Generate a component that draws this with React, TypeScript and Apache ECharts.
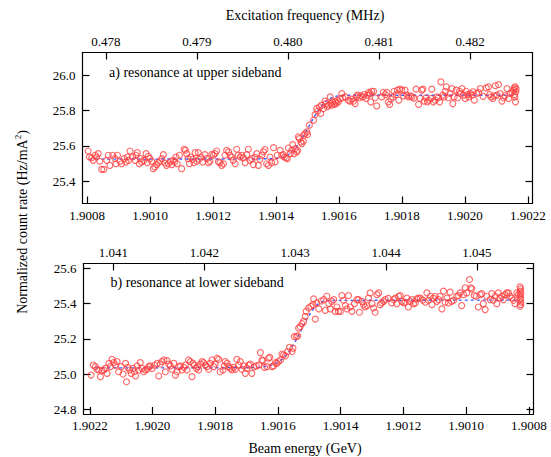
import React, { useEffect, useRef } from "react";
import * as echarts from "echarts";

// Panel a) resonance at upper sideband: [beam energy (GeV), normalized count rate]
const scanA: [number, number][] = [
  [1.900803,25.571],[1.900807,25.537],[1.900814,25.532],[1.900819,25.518],[1.900825,25.547],[1.900830,25.537],
  [1.900835,25.556],[1.900840,25.513],[1.900846,25.467],[1.900853,25.467],[1.900862,25.518],[1.900867,25.547],
  [1.900872,25.490],[1.900881,25.547],[1.900888,25.528],[1.900891,25.499],[1.900896,25.547],[1.900904,25.513],
  [1.900909,25.499],[1.900917,25.528],[1.900923,25.509],[1.900927,25.537],[1.900931,25.518],[1.900936,25.571],
  [1.900944,25.537],[1.900952,25.518],[1.900955,25.547],[1.900959,25.562],[1.900966,25.499],[1.900970,25.528],
  [1.900973,25.509],[1.900980,25.518],[1.900987,25.556],[1.900991,25.505],[1.900994,25.541],[1.900999,25.528],
  [1.901005,25.513],[1.901010,25.471],[1.901015,25.481],[1.901021,25.494],[1.901026,25.505],[1.901031,25.513],
  [1.901037,25.528],[1.901042,25.550],[1.901047,25.503],[1.901052,25.490],[1.901058,25.499],[1.901065,25.513],
  [1.901069,25.494],[1.901074,25.518],[1.901078,25.509],[1.901082,25.537],[1.901086,25.499],[1.901093,25.547],
  [1.901100,25.471],[1.901108,25.581],[1.901112,25.575],[1.901116,25.556],[1.901120,25.528],[1.901125,25.499],
  [1.901129,25.537],[1.901135,25.524],[1.901139,25.505],[1.901143,25.562],[1.901148,25.513],[1.901153,25.562],
  [1.901156,25.524],[1.901161,25.537],[1.901167,25.509],[1.901174,25.550],[1.901180,25.528],[1.901185,25.505],
  [1.901190,25.513],[1.901196,25.552],[1.901201,25.547],[1.901206,25.556],[1.901211,25.571],[1.901217,25.509],
  [1.901222,25.505],[1.901227,25.490],[1.901233,25.499],[1.901238,25.547],[1.901243,25.575],[1.901249,25.566],
  [1.901254,25.547],[1.901259,25.537],[1.901264,25.518],[1.901270,25.499],[1.901275,25.581],[1.901280,25.547],
  [1.901286,25.537],[1.901291,25.547],[1.901296,25.532],[1.901302,25.505],[1.901307,25.550],[1.901312,25.581],
  [1.901317,25.518],[1.901323,25.528],[1.901328,25.494],[1.901333,25.537],[1.901339,25.556],[1.901344,25.490],
  [1.901349,25.524],[1.901355,25.547],[1.901360,25.566],[1.901365,25.579],[1.901370,25.499],[1.901376,25.490],
  [1.901381,25.537],[1.901386,25.505],[1.901392,25.590],[1.901397,25.509],[1.901404,25.547],[1.901413,25.575],
  [1.901418,25.547],[1.901423,25.550],[1.901426,25.537],[1.901432,25.532],[1.901436,25.528],[1.901439,25.588],
  [1.901445,25.556],[1.901450,25.575],[1.901453,25.607],[1.901457,25.556],[1.901461,25.585],[1.901466,25.566],
  [1.901468,25.575],[1.901471,25.651],[1.901474,25.641],[1.901479,25.622],[1.901482,25.613],[1.901487,25.626],
  [1.901489,25.660],[1.901492,25.670],[1.901498,25.679],[1.901500,25.664],[1.901506,25.717],[1.901519,25.745],
  [1.901524,25.777],[1.901529,25.811],[1.901532,25.796],[1.901538,25.821],[1.901542,25.783],[1.901545,25.830],
  [1.901551,25.811],[1.901556,25.853],[1.901559,25.839],[1.901563,25.821],[1.901567,25.830],[1.901572,25.877],
  [1.901574,25.839],[1.901577,25.830],[1.901580,25.849],[1.901585,25.834],[1.901588,25.849],[1.901591,25.839],
  [1.901595,25.858],[1.901598,25.849],[1.901604,25.868],[1.901609,25.896],[1.901612,25.872],[1.901620,25.877],
  [1.901630,25.858],[1.901635,25.853],[1.901641,25.864],[1.901646,25.853],[1.901651,25.839],[1.901655,25.877],
  [1.901659,25.887],[1.901665,25.872],[1.901669,25.883],[1.901676,25.877],[1.901680,25.890],[1.901686,25.868],
  [1.901691,25.887],[1.901694,25.902],[1.901699,25.896],[1.901701,25.849],[1.901704,25.909],[1.901710,25.909],
  [1.901715,25.872],[1.901720,25.826],[1.901736,25.877],[1.901741,25.902],[1.901747,25.890],[1.901752,25.902],
  [1.901757,25.849],[1.901761,25.834],[1.901765,25.864],[1.901771,25.877],[1.901775,25.909],[1.901782,25.890],
  [1.901786,25.915],[1.901790,25.858],[1.901794,25.921],[1.901800,25.915],[1.901805,25.883],[1.901810,25.915],
  [1.901816,25.887],[1.901821,25.877],[1.901828,25.883],[1.901832,25.877],[1.901838,25.870],[1.901845,25.921],
  [1.901853,25.834],[1.901858,25.868],[1.901863,25.915],[1.901867,25.921],[1.901871,25.853],[1.901877,25.872],
  [1.901881,25.849],[1.901885,25.858],[1.901892,25.868],[1.901895,25.921],[1.901900,25.849],[1.901906,25.858],
  [1.901911,25.877],[1.901916,25.872],[1.901920,25.849],[1.901924,25.962],[1.901930,25.887],[1.901934,25.877],
  [1.901938,25.909],[1.901941,25.934],[1.901948,25.872],[1.901953,25.896],[1.901959,25.924],[1.901962,25.839],
  [1.901966,25.877],[1.901973,25.915],[1.901977,25.872],[1.901983,25.909],[1.901985,25.896],[1.901991,25.924],
  [1.901996,25.887],[1.902001,25.868],[1.902004,25.909],[1.902009,25.890],[1.902012,25.877],[1.902017,25.896],
  [1.902022,25.887],[1.902026,25.906],[1.902030,25.858],[1.902038,25.896],[1.902044,25.902],[1.902049,25.924],
  [1.902058,25.880],[1.902068,25.928],[1.902075,25.934],[1.902079,25.890],[1.902083,25.877],[1.902089,25.868],
  [1.902093,25.883],[1.902097,25.940],[1.902102,25.887],[1.902107,25.947],[1.902112,25.896],[1.902118,25.853],
  [1.902123,25.872],[1.902128,25.883],[1.902134,25.924],[1.902139,25.868],[1.902144,25.896],[1.902150,25.902],
  [1.902155,25.915],[1.902157,25.928],[1.902158,25.890],[1.902159,25.877],[1.902160,25.934],[1.902161,25.849],
  [1.902162,25.906],[1.902163,25.921],
];

const fitA: [number, number][] = [
  [1.900807,25.525],[1.901380,25.527],[1.901420,25.535],[1.901440,25.552],[1.901460,25.585],[1.901480,25.635],
  [1.901500,25.695],[1.901520,25.760],[1.901540,25.815],[1.901560,25.855],[1.901580,25.875],[1.901600,25.883],
  [1.901630,25.886],[1.902155,25.886],
];

// Panel b) resonance at lower sideband
const scanB: [number, number][] = [
  [1.902196,24.994],[1.902189,25.051],[1.902182,25.042],[1.902177,25.027],[1.902171,25.023],[1.902166,24.985],
  [1.902161,25.019],[1.902155,25.023],[1.902150,25.032],[1.902145,25.004],[1.902139,25.061],[1.902134,25.042],
  [1.902129,25.084],[1.902124,25.065],[1.902118,25.051],[1.902113,25.071],[1.902108,25.013],[1.902100,25.042],
  [1.902094,25.000],[1.902086,25.061],[1.902083,24.956],[1.902079,25.038],[1.902073,25.023],[1.902068,25.004],
  [1.902062,25.032],[1.902058,25.013],[1.902054,24.989],[1.902049,25.046],[1.902044,25.023],[1.902039,25.065],
  [1.902033,25.032],[1.902028,25.013],[1.902023,25.023],[1.902017,25.027],[1.902012,25.042],[1.902007,25.046],
  [1.902001,25.032],[1.901993,25.050],[1.901985,25.061],[1.901980,24.989],[1.901975,25.057],[1.901970,25.071],
  [1.901964,25.080],[1.901959,25.013],[1.901954,25.076],[1.901948,25.057],[1.901943,25.046],[1.901938,25.027],
  [1.901932,25.061],[1.901927,24.994],[1.901922,25.013],[1.901916,25.042],[1.901911,25.046],[1.901906,25.023],
  [1.901900,25.038],[1.901895,25.051],[1.901890,25.023],[1.901885,25.080],[1.901879,25.071],[1.901874,24.985],
  [1.901871,25.061],[1.901867,25.051],[1.901860,25.032],[1.901856,25.042],[1.901853,25.023],[1.901847,25.057],
  [1.901842,25.071],[1.901837,25.065],[1.901831,25.051],[1.901826,25.042],[1.901821,25.027],[1.901816,25.061],
  [1.901810,25.080],[1.901805,25.042],[1.901800,25.057],[1.901794,25.090],[1.901789,25.084],[1.901784,25.013],
  [1.901775,25.023],[1.901771,25.046],[1.901768,25.071],[1.901762,25.061],[1.901757,25.042],[1.901752,25.032],
  [1.901746,25.023],[1.901741,25.038],[1.901736,25.027],[1.901731,25.084],[1.901725,25.051],[1.901720,25.071],
  [1.901715,25.027],[1.901709,25.046],[1.901704,25.004],[1.901699,25.032],[1.901693,25.051],[1.901688,25.057],
  [1.901683,25.004],[1.901676,25.040],[1.901669,25.046],[1.901661,25.051],[1.901656,25.122],[1.901651,25.080],
  [1.901648,25.076],[1.901643,25.038],[1.901635,25.042],[1.901630,25.090],[1.901626,25.095],[1.901619,25.042],
  [1.901614,25.046],[1.901608,25.065],[1.901603,25.061],[1.901598,25.071],[1.901592,25.080],[1.901587,25.114],
  [1.901582,25.109],[1.901576,25.103],[1.901569,25.128],[1.901563,25.152],[1.901555,25.128],[1.901552,25.147],
  [1.901548,25.213],[1.901541,25.213],[1.901537,25.217],[1.901534,25.261],[1.901529,25.270],[1.901523,25.286],
  [1.901518,25.299],[1.901513,25.328],[1.901510,25.356],[1.901502,25.375],[1.901495,25.385],[1.901488,25.394],
  [1.901486,25.427],[1.901481,25.312],[1.901476,25.404],[1.901470,25.370],[1.901462,25.415],[1.901454,25.423],
  [1.901449,25.362],[1.901444,25.442],[1.901438,25.400],[1.901433,25.370],[1.901428,25.413],[1.901422,25.423],
  [1.901417,25.356],[1.901412,25.381],[1.901407,25.356],[1.901401,25.356],[1.901396,25.446],[1.901391,25.419],
  [1.901385,25.389],[1.901380,25.370],[1.901375,25.446],[1.901369,25.381],[1.901364,25.356],[1.901356,25.400],
  [1.901348,25.423],[1.901343,25.423],[1.901340,25.351],[1.901332,25.413],[1.901327,25.394],[1.901322,25.381],
  [1.901316,25.389],[1.901311,25.432],[1.901306,25.461],[1.901300,25.400],[1.901295,25.375],[1.901290,25.351],
  [1.901284,25.451],[1.901279,25.461],[1.901274,25.394],[1.901269,25.404],[1.901263,25.413],[1.901258,25.423],
  [1.901248,25.430],[1.901237,25.404],[1.901231,25.423],[1.901226,25.432],[1.901221,25.400],[1.901215,25.442],
  [1.901210,25.446],[1.901205,25.413],[1.901199,25.404],[1.901194,25.408],[1.901189,25.432],[1.901184,25.381],
  [1.901178,25.413],[1.901173,25.423],[1.901168,25.400],[1.901162,25.404],[1.901157,25.427],[1.901152,25.432],
  [1.901146,25.432],[1.901138,25.420],[1.901130,25.408],[1.901125,25.461],[1.901120,25.419],[1.901114,25.442],
  [1.901109,25.394],[1.901104,25.432],[1.901099,25.442],[1.901093,25.413],[1.901088,25.423],[1.901083,25.442],
  [1.901077,25.370],[1.901072,25.471],[1.901067,25.408],[1.901061,25.432],[1.901056,25.404],[1.901051,25.465],
  [1.901046,25.413],[1.901040,25.419],[1.901030,25.442],[1.901024,25.446],[1.901019,25.461],[1.901014,25.389],
  [1.901008,25.451],[1.901003,25.490],[1.900998,25.461],[1.900989,25.537],[1.900985,25.490],[1.900982,25.484],
  [1.900974,25.446],[1.900968,25.442],[1.900961,25.381],[1.900955,25.451],[1.900950,25.457],[1.900945,25.400],
  [1.900939,25.366],[1.900934,25.442],[1.900923,25.423],[1.900918,25.457],[1.900913,25.419],[1.900907,25.442],
  [1.900902,25.400],[1.900897,25.461],[1.900892,25.432],[1.900886,25.442],[1.900881,25.423],[1.900876,25.451],
  [1.900870,25.461],[1.900865,25.461],[1.900860,25.442],[1.900854,25.432],[1.900849,25.419],[1.900844,25.400],
  [1.900838,25.461],[1.900833,25.451],[1.900828,25.495],[1.900826,25.484],[1.900827,25.471],[1.900825,25.457],
  [1.900828,25.446],[1.900826,25.432],[1.900827,25.423],[1.900825,25.408],[1.900826,25.394],[1.900828,25.385],
];

const fitB: [number, number][] = [
  [1.902182,25.035],[1.901680,25.037],[1.901640,25.043],[1.901610,25.058],[1.901580,25.095],[1.901560,25.140],
  [1.901540,25.200],[1.901520,25.270],[1.901500,25.335],[1.901480,25.385],[1.901460,25.410],[1.901440,25.418],
  [1.900828,25.420],
];

// Tick values
const energyTicks = [1.9008, 1.901, 1.9012, 1.9014, 1.9016, 1.9018, 1.902, 1.9022];
const freqTicksA = [0.478, 0.479, 0.48, 0.481, 0.482];
const freqTicksB = [1.041, 1.042, 1.043, 1.044, 1.045];
const rateTicksA = [25.4, 25.6, 25.8, 26.0];
const rateTicksB = [24.8, 25.0, 25.2, 25.4, 25.6];

const FONT = "Liberation Serif";
const lineStyle = { color: "#000", width: 1.2 };

function xAxisDef(gridIndex: number, top: boolean, min: number, max: number, ticks: number[], digits: number, inverse: boolean) {
  const ax: any = {
    type: "value",
    gridIndex,
    min,
    max,
    splitLine: { show: false },
    axisLine: { onZero: false, lineStyle },
    axisTick: { inside: true, length: 7, customValues: ticks, lineStyle },
    axisLabel: {
      color: "#000",
      fontFamily: FONT,
      fontSize: 13,
      margin: 5,
      customValues: ticks,
      formatter: (v: number) => v.toFixed(digits),
    },
  };
  if (top) ax.position = "top";
  if (inverse) ax.inverse = true;
  return ax;
}

function yAxisDef(gridIndex: number, right: boolean, min: number, max: number, ticks: number[]) {
  const ax: any = {
    type: "value",
    gridIndex,
    min,
    max,
    splitLine: { show: false },
    axisLine: { show: true, onZero: false, lineStyle },
    axisTick: { show: true, inside: true, length: 7, customValues: ticks, lineStyle },
    axisLabel: right
      ? { show: false }
      : {
          color: "#000",
          fontFamily: FONT,
          fontSize: 13,
          margin: 7,
          customValues: ticks,
          formatter: (v: number) => v.toFixed(1),
        },
  };
  if (right) ax.position = "right";
  return ax;
}

export default function App() {
  const ref = useRef<HTMLDivElement>(null);

  useEffect(() => {
    document.body.style.margin = "0";
    if (!ref.current) return;
    const chart = echarts.init(ref.current, undefined, { renderer: "svg" });

    const scatterStyle = { color: "rgba(255,255,255,0)", borderColor: "#ff3f3f", borderWidth: 1.1 };
    const fitStyle = { color: "#3d5cff", width: 1.4, type: [3, 3] as number[] };
    const txt = (text: string, align: string) => ({
      text, fontFamily: FONT, fontSize: 14, fill: "#000", align, verticalAlign: "middle",
    });

    chart.setOption({
      animation: false,
      grid: [
        { left: 82.5, top: 52.5, width: 450, height: 151 },
        { left: 83.5, top: 263.5, width: 450, height: 150.5 },
      ],
      xAxis: [
        xAxisDef(0, false, 1.900785, 1.902215, energyTicks, 4, false),
        xAxisDef(0, true, 0.477744, 0.482685, freqTicksA, 3, false),
        xAxisDef(1, false, 1.900785, 1.90222, energyTicks, 4, true),
        xAxisDef(1, true, 1.04067, 1.045623, freqTicksB, 3, false),
      ],
      yAxis: [
        yAxisDef(0, false, 25.274, 26.128, rateTicksA),
        yAxisDef(0, true, 25.274, 26.128, rateTicksA),
        yAxisDef(1, false, 24.773, 25.628, rateTicksB),
        yAxisDef(1, true, 24.773, 25.628, rateTicksB),
      ],
      series: [
        { type: "line", xAxisIndex: 0, yAxisIndex: 0, data: fitA, showSymbol: false, smooth: 0.3, lineStyle: fitStyle, z: 2 },
        { type: "scatter", xAxisIndex: 0, yAxisIndex: 0, data: scanA, symbol: "circle", symbolSize: 6, itemStyle: scatterStyle, z: 3 },
        { type: "line", xAxisIndex: 2, yAxisIndex: 2, data: fitB, showSymbol: false, smooth: 0.3, lineStyle: fitStyle, z: 2 },
        { type: "scatter", xAxisIndex: 2, yAxisIndex: 2, data: scanB, symbol: "circle", symbolSize: 6, itemStyle: scatterStyle, z: 3 },
      ],
      graphic: [
        { type: "text", x: 305, y: 15, style: txt("Excitation frequency (MHz)", "center") },
        { type: "text", x: 305, y: 448, style: txt("Beam energy (GeV)", "center") },
        { type: "text", x: 109, y: 72, style: txt("a) resonance at upper sideband", "left") },
        { type: "text", x: 110.5, y: 282, style: txt("b) resonance at lower sideband", "left") },
        {
          type: "text",
          x: 22,
          y: 222,
          rotation: Math.PI / 2,
          style: {
            text: "{m|Normalized count rate (Hz/mA}{s|2}{m|)}",
            align: "center",
            verticalAlign: "middle",
            fill: "#000",
            fontFamily: FONT,
            rich: {
              m: { fontFamily: FONT, fontSize: 14, lineHeight: 18, fill: "#000" },
              s: { fontFamily: FONT, fontSize: 9, lineHeight: 10, verticalAlign: "top", fill: "#000" },
            },
          },
        },
      ],
    });

    return () => chart.dispose();
  }, []);

  return (
    <div
      ref={ref}
      style={{ width: 551, height: 457, position: "fixed", left: 0, top: 0, background: "#fff" }}
    />
  );
}
